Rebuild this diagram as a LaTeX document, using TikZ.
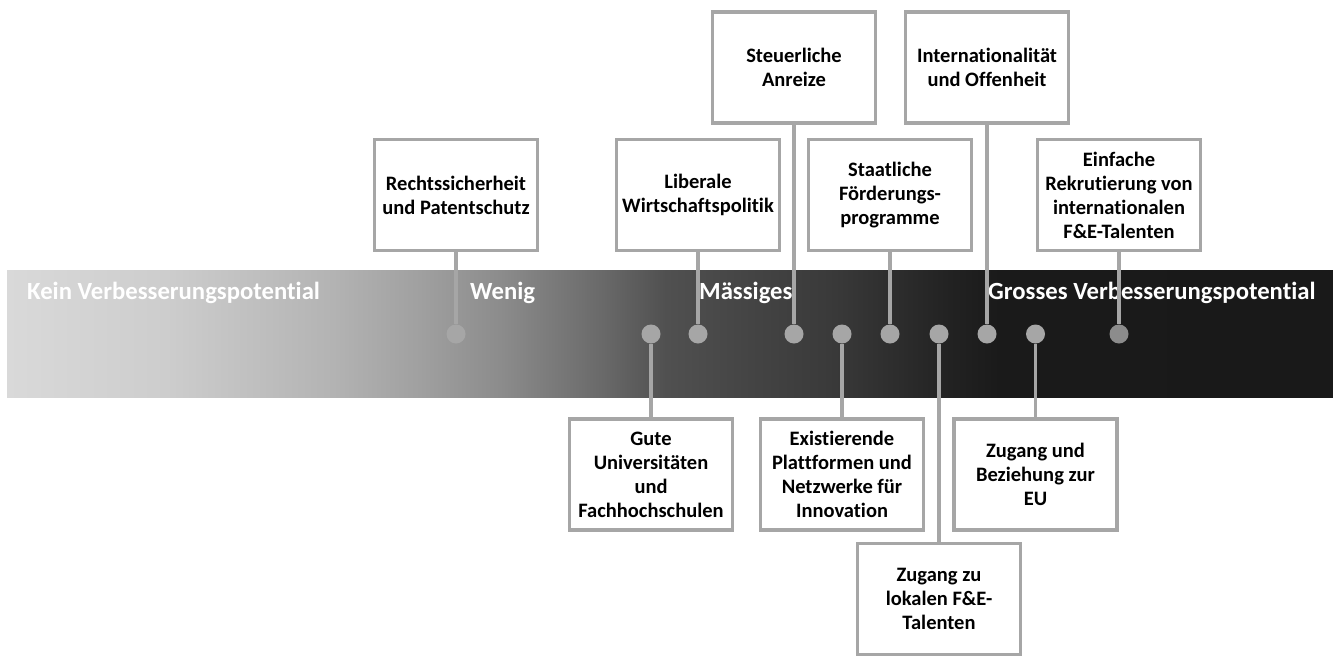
\documentclass[tikz,border=0pt]{standalone}
\usepackage{fontspec}
\setmainfont{Carlito}[Ligatures=NoCommon]
\usepackage{xcolor}
\usepackage{tikz}

\definecolor{linegray}{RGB}{166,166,166}
\definecolor{dotdark}{RGB}{140,140,140}

% grey ramp of the bar (path is mapped to 25bp--75bp)
\pgfdeclarehorizontalshading{barshade}{100bp}{%
  rgb(0bp)=(0.851,0.851,0.851);
  rgb(25bp)=(0.851,0.851,0.851);
  rgb(31.00bp)=(0.804,0.804,0.804);
  rgb(37.29bp)=(0.702,0.702,0.702);
  rgb(40.57bp)=(0.627,0.627,0.627);
  rgb(43.59bp)=(0.549,0.549,0.549);
  rgb(47.36bp)=(0.416,0.416,0.416);
  rgb(49.85bp)=(0.314,0.314,0.314);
  rgb(53.02bp)=(0.267,0.267,0.267);
  rgb(56.03bp)=(0.227,0.227,0.227);
  rgb(58.67bp)=(0.173,0.173,0.173);
  rgb(60.56bp)=(0.133,0.133,0.133);
  rgb(62.44bp)=(0.102,0.102,0.102);
  rgb(75bp)=(0.098,0.098,0.098);
  rgb(100bp)=(0.098,0.098,0.098)}

\begin{document}
\begin{tikzpicture}[x=1pt, y=-1pt,
    % Styles
    factor/.style={
        rectangle,
        draw=linegray,
        line width=3.5pt,
        fill=white,
        minimum width=163pt,
        minimum height=111pt,
        inner sep=0pt,
        text width=160pt,
        align=flush center,
        font=\fontsize{20.5}{24}\selectfont\bfseries
    },
    dot/.style={
        circle,
        fill=linegray,
        minimum size=19pt,
        inner sep=0pt
    },
    link/.style={
        draw=linegray,
        line width=3.5pt
    },
    level/.style={
        anchor=base west,
        inner sep=0pt,
        text=white,
        font=\fontsize{24.7}{28}\selectfont\bfseries
    }
]
\useasboundingbox (0,0) rectangle (1333,656);

% Bar
\shade[shading=barshade] (7,270) rectangle (1333,397);

\node[level] (kein) at (27,299) {Kein Verbesserungspotential};
\node[level] (wenig) at (470,299) {Wenig};
\node[level] (mass) at (699,299) {Mässiges};
\node[level] (gross) at (988,299) {Grosses Verbesserungspotential};

% Dots on the bar
\node[dot] (drecht) at (456,334) {};
\node[dot] (dgute) at (651,334) {};
\node[dot] (dlib) at (698,334) {};
\node[dot] (dsteuer) at (794,334) {};
\node[dot] (dexist) at (842,334) {};
\node[dot] (dstaat) at (890,334) {};
\node[dot] (dlokal) at (939,334) {};
\node[dot] (dintl) at (987,334) {};
\node[dot] (deu) at (1035.5,334) {};
\node[dot, fill=dotdark] (dein) at (1119,334) {};

% Boxes above
\node[factor] (steuer) at (794,67.5) {Steuerliche\\Anreize};
\node[factor] (intl) at (987,67.5) {Internationalität\\und Offenheit};
\node[factor] (recht) at (456,195) {Rechtssicherheit\\und Patentschutz};
\node[factor] (lib) at (698,195) {Liberale\\Wirtschaftspolitik};
\node[factor] (staat) at (890,195) {Staatliche\\Förderungs-\\programme};
\node[factor] (ein) at (1119,195) {Einfache\\Rekrutierung von\\internationalen\\F\&E-Talenten};

% Boxes below
\node[factor] (gute) at (651,474.5) {Gute\\Universitäten\\und\\Fachhochschulen};
\node[factor] (exist) at (842,474.5) {Existierende\\Plattformen und\\Netzwerke für\\Innovation};
\node[factor] (eu) at (1035.5,474.5) {Zugang und\\Beziehung zur\\EU};
\node[factor] (lokal) at (939,599) {Zugang zu\\lokalen F\&E-\\Talenten};

% Connectors
\draw[link] (recht.south) -- (drecht.north);
\draw[link] (lib.south) -- (dlib.north);
\draw[link] (steuer.south) -- (dsteuer.north);
\draw[link] (staat.south) -- (dstaat.north);
\draw[link] (intl.south) -- (dintl.north);
\draw[link] (ein.south) -- (dein.north);
\draw[link] (dgute.south) -- (gute.north);
\draw[link] (dexist.south) -- (exist.north);
\draw[link] (dlokal.south) -- (lokal.north);
\draw[link] (deu.south) -- (eu.north);

\end{tikzpicture}
\end{document}
